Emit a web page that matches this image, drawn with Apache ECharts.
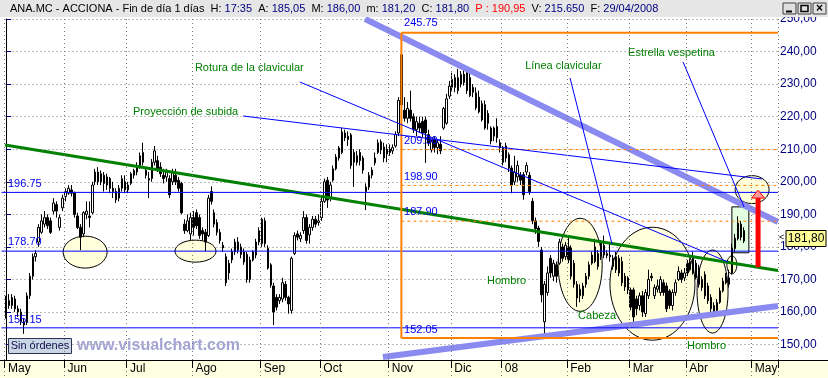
<!DOCTYPE html>
<html><head><meta charset="utf-8">
<script src="https://cdn.jsdelivr.net/npm/echarts@6/dist/echarts.min.js"></script>
<style>html,body{margin:0;padding:0;background:#fff;}#c{width:828px;height:378px;}</style>
</head><body><div id="c"></div>
<script>
// ---------- DATA ----------
const monthNames = ['May','Jun','Jul','Ago','Sep','Oct','Nov','Dic','08','Feb','Mar','Abr','May'];
const monthDays  = [20,21,22,23,20,23,21,17,22,21,19,22,9];

const opens = [159,163.5,162,164,161,160,157,157,165,171,177,181.5,184.5,187,189,188,191,193,186,192,
195.5,196.5,197.5,196.5,189.5,186,184,190,189.5,190.5,200,203,200,202,199,201,198,197,195,198,
200,197.5,199.5,202,203,205,206,203.5,201,201,206,206.5,204.5,202,201.5,201,200,202,200.5,199.5,
187,185,184,189,190.5,189,185,184.5,183.5,197,190.5,187.5,184.5,180.5,177,172,176,178.5,181.5,180,
178.5,177.7,170,176,177.5,181.5,181,188,179.5,174.5,168,164.5,163.5,164,168.5,164.5,160.5,178,184,182.5,
185,189,183.7,186,188.5,187.5,189,194,200.5,195,200.5,204,207.3,209,215,214,214.4,209,208,209,
207.3,197,198.4,202,205.8,209,212.3,210.7,210,210,209.5,211,215,239,222,219.5,222,220,216,218,
218.5,219,214.5,209.8,213,210.5,211.5,216.5,218,226.3,229,229,228,230,233,233.5,232,229,227.3,226,
224,223.7,221,216.5,214,217,212,210.3,211,208.3,204.2,200,201.5,202,202.2,203,202,194,188,185.8,
179,157,166,176.5,171,174.5,175,180,177,180,179.7,175,168.5,167,165,168.5,171,175,180,178,
177,177.5,177.3,177.5,174,177,176.5,175.5,171,170.5,166.8,166.8,164,162,165,159.5,165,171,165,167,
166,169,168,166.5,162,166,170,172,170.5,175,173,176.5,175,173.5,170,171.5,168,164.5,162,160.5,
163,166.5,171,168.5,172,179.5,182.5,187,185.05];
const closes = [163.5,162,164.5,161,160,157,156,165,171,177,178,186,188,189,186.5,184.5,193.5,191,189,195,
197,198,196.5,190,186,183,190.5,191,189,199,203,200,202.5,199.5,201.5,198,197,194.5,198,201,
197.5,199,202.5,203.5,205,208,209,202,200.5,206,209.5,204,202.5,201,203,196,203,200,198,190.5,
185,188,189,186,186.5,183.5,184,181.5,195,194,187,184.5,182,179.7,169,175,178.5,181.5,179,177.7,
175.4,170,176,178.5,181.5,185,188.5,181,173.5,168.3,160,161.5,164.5,169,164.5,162.5,176.5,183.5,183,183.5,
189,182,186,188.5,187,188,194,200,194.4,199,204,207.6,210.4,215.3,213.5,213,205,206,206,206.5,
203.6,198.4,202,203.6,207.3,212,209.8,207.3,208.5,209,210.5,214.5,225,223.6,219.5,222.5,219.5,216,218.5,216.5,
215,215,212,212.3,210.5,212,209.5,222.5,225.5,229.4,231.5,232,232,233,230.5,228,226.5,227.5,222.7,221.5,
219,216.5,218,212.5,216.5,213.5,210.5,206,207.3,204.2,199,203,205,200.5,196,205,197,188,185.6,181.7,
165.3,168.5,172,172,175,171,181.5,176.5,180.5,176,171,168.5,164.3,165,168,171,174.5,177.5,175.5,174,
181.2,180.5,178,177,176.5,173,172,169,167.7,166.8,161.5,158.5,161,165,160,166,170,170.5,167.5,168,
170,166,161,162,166,169,172.5,170,172,172,175.5,172,170.5,168.5,167.5,165,163.5,161,160,163,
166.5,169.5,169,170.5,179.7,182.7,187.3,183,181.8];
const lows = [158,161,161,160,158.5,156,153.3,156,164,170,175.5,180,184,186,185.5,184,190,189,185,191,
194,196,195.5,189,185.5,179,183,188.5,186,190,199,199,199,197,197.5,196.5,195,193.5,194,197,
196.5,196.5,199,201,202,204,205,201,195,200,205,203,201.5,199.5,200,195,199,199,197,190,
184,184.5,182,183.5,185.5,182.5,182,178.7,183,193,186,183.5,181,178.5,168,170,175,177.5,178,176.5,
174.5,169,169,175.5,176.5,180.5,180,180,173,167.5,156,160.5,162.5,163,163.5,159.5,159.5,177.5,182,181.5,
184,181,181,185,186,186.5,188,193.5,192,194,200,203.5,206.5,208.5,212.5,211,204,198.4,205,205,
202.5,191.3,197.5,201,205,208.5,208.5,206,206,208,208.5,210.5,214,222,218.5,218,218.5,215,214,215,
213.5,205.8,211,209,209,208.5,208.5,216,217.5,225.5,228,227.5,227,229,229.5,227,226,226,222,221,
218.5,216,216,211.5,212.5,212,209,205,206,203,196.5,199,200,199,194.5,202,196,187,184,180,
163,152.3,165,170.5,169.5,169,174.5,175.5,176,175,170,167.5,161.6,163,164,167.5,170,174.5,175,173,
176,176.5,176.5,175.5,173,172,171,168,166.5,165.5,160.5,155.5,159,160.5,158.5,158.5,164,169.5,164,166,
165,165,160,161,160.5,165,169.5,169,169.5,171,172.5,171.5,170,167.5,166.5,164,162.5,159.5,158.8,160,
162.5,166,168.5,167.5,171.5,178.5,182,182,181.2];
const highs = [165,165.5,165.5,165,162,161,158,166,172,178,179,187,190,191,190,189,195,194,190,196,
198,199,199,197,190.5,187,191,194,194,200,204,204.5,203.5,203,202.5,201.5,200,198,199,202,
202,200,203,204,206,209,212,204,203,207,211,208,206,204,204,202,204,204,201.5,200,
188.5,190,190.5,191,191.5,190,186,185.5,196,198.6,191.5,188.5,185.5,181.5,178,176,179.5,182.5,183,181,
179.5,178.5,177,179,182.5,186,189,189,180.5,175,169,165.5,165.5,170.5,169.5,165,177,184.5,185,184.5,
191,190,187,189.5,189.5,190,195.5,201,201.5,200,205,208.5,211,216.6,216,215.5,215,210,209.5,210,
208,199.5,203,204.5,209,213,213,212,211.5,211.5,211.5,215.5,226,245.75,226,224.5,228,221,220,220,
220,220,216,213,214,213,214,223,227,231,233.5,233,234.7,234,234.5,235.5,234,230,229,228,
225,225,222,217,217,219.5,213,211,212,209,205,208,206.5,203,203,206,203,195,189,186.5,
180,169.5,174,177.5,176,175.5,182.5,181,181.5,183,180.5,176,169.5,168.5,169,172,175.5,178.5,182.5,179,
182,183.5,179,181.5,177.5,178.5,177.5,177,172,171,167.5,167.5,165,166,166.5,167,173,172,168.5,170,
171,170,169,167,167,170,174,173,173.5,176,176.5,178.5,176,174.5,171,172.5,169,165.5,163,164,
167.5,170.5,172,173,181,184,189.4,188,186];

// horizontal levels and drawn levels (price)
const blueLevels  = [196.75, 178.70, 155.15];
const fiboLevels  = [209.90, 198.90, 187.90];
const rangeTop = 245.75, rangeBottom = 152.05;

// ---------- build ----------
const cats = [], monthStart = new Set();
monthNames.forEach((m, k) => { for (let d = 1; d <= monthDays[k]; d++) { if (d === 1) monthStart.add(cats.length); cats.push(m + ' ' + d); } });
const ohlc = opens.map((o, i) => [o, closes[i], lows[i], highs[i]]);
const isStart = (idx) => monthStart.has(idx);
const labelOf = (v) => v.split(' ')[0];

// annotation geometry in data space: [x1, v1, x2, v2, style]
const XR = 259.5, XV = 132.9;
const lineDefs = [
  [-0.34, 211.3, XR, 172.73, 'green'],
  [120.7, 250, XR, 187.65, 'lav'],
  [126.7, 146.2, XR, 161.86, 'lav'],
  ...blueLevels.map(v => [-1.5, v, XR, v, 'blue']),
  [XV, rangeTop, XV, rangeBottom, 'orange'],
  [XV, rangeTop, XR, rangeTop, 'orange'],
  [XV, rangeBottom, XR, rangeBottom, 'orange'],
  ...fiboLevels.map(v => [XV, v, XR, v, 'dash']),
  [79.7, 220.21, 254.1, 200.86, 'thin'],
  [98.8, 230.65, 242.7, 175.37, 'thin'],
  [189.6, 231.88, 203.7, 180.9, 'thin'],
  [227.6, 236.79, 248.1, 192.26, 'thin']
];
const lineStyles = {
  green: {stroke:'#008000', lineWidth:3},
  lav: {stroke:'#8A8AF0', lineWidth:6},
  blue: {stroke:'#0000FF', lineWidth:1},
  orange: {stroke:'#FF8000', lineWidth:2},
  dash: {stroke:'#FF8000', lineWidth:1, lineDash:[3,3]},
  thin: {stroke:'#0000FF', lineWidth:1}
};
const ellipseDefs = [
  [26.6, 178.4, 7.4, 4.91], [63.7, 178.7, 6.9, 3.38], [193.0, 174.5, 7.4, 14.28],
  [217.3, 168.7, 14.29, 17.35], [237.5, 166.3, 5.21, 12.75], [250.8, 197.6, 5.71, 4.3], [244.0, 174.5, 1.68, 2.76]
];
const boxDef = [244.0, 192.3, 249.7, 178.2];
const arrowDef = [252.8, 173.8, 195.0, 197.4];
const G = '#008000', B = '#0000EE';
const textDefs = [
  [63.5, 234.95, 'Rotura de la clavicular', G], [42.7, 221.44, 'Proyección de subida', G],
  [174.5, 235.56, 'Línea clavicular', G], [209.1, 239.56, 'Estrella vespetina', G],
  [161.7, 169.53, 'Hombro', G], [192.3, 158.78, 'Cabeza', G], [228.9, 149.57, 'Hombro', G],
  [0.67, 199.32, '196.75', B], [0.67, 181.51, '178.70', B], [0.67, 157.56, '155.15', B],
  [133.8, 248.77, '245.75', B], [133.8, 212.53, '209.90', B], [133.8, 201.47, '198.90', B],
  [133.8, 190.72, '187.90', B], [133.8, 154.48, '152.05', B]
];

const FONT = '"Liberation Sans", Arial, sans-serif';
const chart = echarts.init(document.getElementById('c'));
const gridH = 110 * 3.256;
chart.setOption({
  animation: false,
  backgroundColor: '#ffffff',
  grid: {left: 4.5, right: 50, top: 19, height: gridH, containLabel: false, outerBoundsMode: 'none'},
  xAxis: [{
    type: 'category', data: cats, boundaryGap: true, offset: -(19 + gridH - 360), z: 10,
    axisLine: {show: false},
    axisTick: {show: true, interval: (i) => isStart(i), length: 8, lineStyle: {color: '#000'}},
    axisLabel: {interval: (i) => isStart(i), formatter: (v) => labelOf(v), align: 'left', margin: 3,
      color: '#000', fontSize: 12, fontFamily: FONT, padding: [0,0,0,2]},
    splitLine: {show: true, interval: (i) => isStart(i), lineStyle: {color: '#7a7a7a', type: [1, 3]}}
  }, {
    type: 'value', min: -0.5, max: 259.5, show: false
  }],
  yAxis: [{
    type: 'value', position: 'right', min: 140, max: 250, interval: 10,
    axisLine: {show: true, lineStyle: {color: '#000'}},
    axisTick: {show: true, length: 5, lineStyle: {color: '#000080'}},
    axisLabel: {margin: 2, color: '#000080', fontSize: 12, fontFamily: FONT,
      formatter: (v) => v < 145 ? '' : v.toFixed(2).replace('.', ',')},
    splitLine: {show: true, lineStyle: {color: '#7a7a7a', type: [1, 3]}}
  }],
  series: [
    {type: 'custom', xAxisIndex: 1, yAxisIndex: 0, z: 1, silent: true,
     data: ellipseDefs.map(e => [e[0], e[1]]),
     renderItem: (p, api) => {
       const e = ellipseDefs[p.dataIndex];
       const c = api.coord([e[0], e[1]]), k = api.coord([e[0] + e[2], e[1] + e[3]]);
       return {type: 'ellipse', shape: {cx: c[0], cy: c[1], rx: k[0] - c[0], ry: c[1] - k[1]},
               style: {fill: '#FFFFDC', stroke: '#000', lineWidth: 1}};
     }},
    {type: 'custom', xAxisIndex: 1, yAxisIndex: 0, z: 1, silent: true,
     data: [[boxDef[0], boxDef[1]]],
     renderItem: (p, api) => {
       const a = api.coord([boxDef[0], boxDef[1]]), b = api.coord([boxDef[2], boxDef[3]]);
       return {type: 'rect', shape: {x: a[0], y: a[1], width: b[0] - a[0], height: b[1] - a[1]},
               style: {fill: '#E2FFE2', stroke: '#000', lineWidth: 1}};
     }},
    {type: 'candlestick', xAxisIndex: 0, yAxisIndex: 0, z: 3, data: ohlc, barWidth: 2,
     itemStyle: {color: '#ffffff', color0: '#000000', borderColor: '#000000', borderColor0: '#000000', borderWidth: 1}},
    {type: 'custom', xAxisIndex: 1, yAxisIndex: 0, z: 4, silent: true,
     data: lineDefs.map(d => [d[0], d[1]]),
     renderItem: (p, api) => {
       const d = lineDefs[p.dataIndex];
       const a = api.coord([d[0], d[1]]), b = api.coord([d[2], d[3]]);
       return {type: 'line', shape: {x1: a[0], y1: a[1], x2: b[0], y2: b[1]}, style: Object.assign({}, lineStyles[d[4]])};
     }},
    {type: 'custom', xAxisIndex: 1, yAxisIndex: 0, z: 5, silent: true,
     data: [[arrowDef[0], arrowDef[1]]],
     renderItem: (p, api) => {
       const s = api.coord([arrowDef[0], arrowDef[1]]), m = api.coord([arrowDef[0], arrowDef[2]]), t = api.coord([arrowDef[0], arrowDef[3]]);
       return {type: 'group', children: [
         {type: 'rect', shape: {x: s[0] - 2.5, y: m[1], width: 5, height: s[1] - m[1]}, style: {fill: '#FF0000'}},
         {type: 'polygon', shape: {points: [[t[0], t[1]], [t[0] + 6.5, m[1]], [t[0] - 6.5, m[1]]]}, style: {fill: '#FF9A9A', stroke: '#FF0000', lineWidth: 1}}
       ]};
     }},
    {type: 'custom', xAxisIndex: 1, yAxisIndex: 0, z: 6, silent: true,
     data: textDefs.map(t => [t[0], t[1]]),
     renderItem: (p, api) => {
       const t = textDefs[p.dataIndex];
       const a = api.coord([t[0], t[1]]);
       return {type: 'text', x: a[0], y: a[1], style: {text: t[2], fill: t[3], font: '11px ' + FONT, align: 'left', verticalAlign: 'middle'}};
     }}
  ],
  graphic: [
    {type: 'rect', z: 8, shape: {x: 0, y: 360, width: 828, height: 18}, style: {fill: '#FFFFE1'}},
    {type: 'line', z: 11, shape: {x1: 0, y1: 360.5, x2: 828, y2: 360.5}, style: {stroke: '#000', lineWidth: 1}},
    {type: 'rect', z: 20, shape: {x: 0, y: 0, width: 828, height: 17}, style: {fill: '#E6E6E6'}},
    {type: 'text', z: 21, x: 10, y: 9, style: {
      text: '{k|ANA.MC - ACCIONA - Fin de día 1 días  H: }{v|17:35}{k|  A: }{v|185,05}{k|  M: }{v|186,00}{k|  m: }{v|181,20}{k|  C: }{v|181,80}{r|  P : 190,95}{k|  V: }{v|215.650}{k|  F: }{v|29/04/2008}',
      verticalAlign: 'middle', font: '11px ' + FONT,
      rich: {k: {fill: '#000', font: '11px ' + FONT}, v: {fill: '#000080', font: '11px ' + FONT}, r: {fill: '#FF0000', font: '11px ' + FONT}}}},
    {type: 'rect', z: 21, shape: {x: 783, y: 3, width: 13, height: 11}, style: {fill: '#E0E0E0', stroke: '#404040'}},
    {type: 'rect', z: 21, shape: {x: 798, y: 3, width: 13, height: 11}, style: {fill: '#E0E0E0', stroke: '#404040'}},
    {type: 'rect', z: 21, shape: {x: 813, y: 3, width: 13, height: 11}, style: {fill: '#E0E0E0', stroke: '#404040'}},
    {type: 'line', z: 22, shape: {x1: 786, y1: 11.5, x2: 792, y2: 11.5}, style: {stroke: '#000', lineWidth: 2}},
    {type: 'rect', z: 22, shape: {x: 801, y: 5.5, width: 7, height: 6}, style: {fill: 'none', stroke: '#000', lineWidth: 1.5}},
    {type: 'text', z: 22, x: 819.5, y: 9, style: {text: '×', font: 'bold 12px ' + FONT, fill: '#000', align: 'center', verticalAlign: 'middle'}},
    {type: 'rect', z: 21, shape: {x: 786, y: 230.5, width: 40, height: 16}, style: {fill: '#FFFF99', stroke: '#000', lineWidth: 1}},
    {type: 'text', z: 22, x: 806, y: 239, style: {text: '181,80', font: '12px ' + FONT, fill: '#000', align: 'center', verticalAlign: 'middle'}},
    {type: 'text', z: 22, x: 779, y: 238, style: {text: '<', font: '9px ' + FONT, fill: '#000', align: 'left', verticalAlign: 'middle'}},
    {type: 'rect', z: 9, shape: {x: 8.5, y: 338.5, width: 63, height: 15}, style: {fill: '#C9D6E6', stroke: '#303050', lineWidth: 1}},
    {type: 'text', z: 10, x: 40, y: 346, style: {text: 'Sin órdenes', font: '11px ' + FONT, fill: '#10104a', align: 'center', verticalAlign: 'middle'}},
    {type: 'text', z: 9, x: 77, y: 346, style: {text: 'www.visualchart.com', font: 'bold 16px ' + FONT, fill: '#A4A4D2', align: 'left', verticalAlign: 'middle'}}
  ]
});
</script></body></html>
